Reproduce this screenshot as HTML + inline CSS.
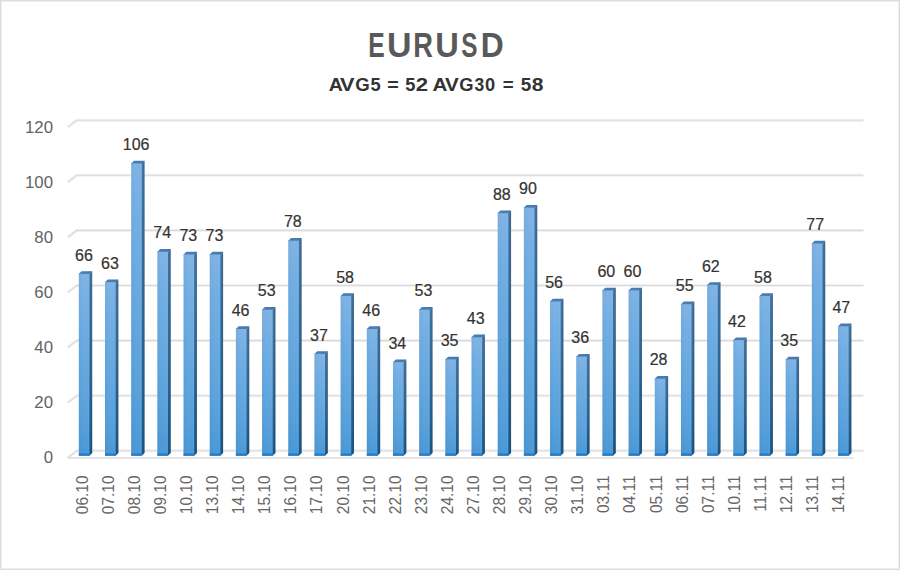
<!DOCTYPE html><html><head><meta charset="utf-8"><style>html,body{margin:0;padding:0;background:#fff}body{width:900px;height:570px;overflow:hidden}svg{display:block}text{font-family:"Liberation Sans",sans-serif}</style></head><body>
<svg width="900" height="570" viewBox="0 0 900 570">
<defs>
<linearGradient id="gf" x1="0" y1="0" x2="0" y2="1"><stop offset="0" stop-color="#80b4e6"/><stop offset="0.2" stop-color="#72afe4"/><stop offset="0.5" stop-color="#66a9e1"/><stop offset="0.8" stop-color="#58a1dc"/><stop offset="1" stop-color="#4a99d7"/></linearGradient>
<linearGradient id="gs" x1="0" y1="0" x2="0" y2="1"><stop offset="0" stop-color="#4a7cad"/><stop offset="0.5" stop-color="#35709f"/><stop offset="1" stop-color="#1d5e90"/></linearGradient>
<linearGradient id="gsh" x1="0" y1="0" x2="1" y2="0"><stop offset="0" stop-color="#000" stop-opacity="0"/><stop offset="1" stop-color="#000" stop-opacity="0.18"/></linearGradient>
<linearGradient id="gt" x1="0" y1="0" x2="1" y2="0"><stop offset="0" stop-color="#4d80b6"/><stop offset="0.75" stop-color="#4679ad"/><stop offset="1" stop-color="#2a5b8c"/></linearGradient>
<linearGradient id="gfh" x1="0" y1="0" x2="1" y2="0"><stop offset="0" stop-color="#000" stop-opacity="0.04"/><stop offset="0.5" stop-color="#000" stop-opacity="0"/><stop offset="1" stop-color="#fff" stop-opacity="0.04"/></linearGradient>
<linearGradient id="gb" x1="0" y1="0" x2="0" y2="1"><stop offset="0" stop-color="#1f78c8" stop-opacity="0"/><stop offset="0.45" stop-color="#1f78c8" stop-opacity="0.85"/><stop offset="1" stop-color="#1a74c4"/></linearGradient>
</defs>
<rect x="0" y="0" width="900" height="570" fill="#fff"/>
<rect x="0.5" y="0.5" width="899" height="569" fill="none" stroke="#dcdcdc" stroke-width="1"/>
<rect x="1.5" y="1.5" width="897" height="567" fill="none" stroke="#efefef" stroke-width="1"/>
<path d="M67.8 457.7L76.7 450.8L863.4 450.8 M67.8 402.6L76.7 395.7L863.4 395.7 M67.8 347.5L76.7 340.6L863.4 340.6 M67.8 292.4L76.7 285.5L863.4 285.5 M67.8 237.3L76.7 230.4L863.4 230.4 M67.8 182.2L76.7 175.3L863.4 175.3 M67.8 127.1L76.7 120.2L863.4 120.2" fill="none" stroke="#f1f1f1" stroke-width="3"/>
<path d="M67.8 457.7L76.7 450.8L863.4 450.8 M67.8 402.6L76.7 395.7L863.4 395.7 M67.8 347.5L76.7 340.6L863.4 340.6 M67.8 292.4L76.7 285.5L863.4 285.5 M67.8 237.3L76.7 230.4L863.4 230.4 M67.8 182.2L76.7 175.3L863.4 175.3 M67.8 127.1L76.7 120.2L863.4 120.2" fill="none" stroke="#dbdbdb" stroke-width="1.1"/>
<path d="M67.8 458L853.7 458" fill="none" stroke="#dcdcdc" stroke-width="1.6"/>
<text transform="translate(53 463.1) scale(1.05 1)" text-anchor="end" font-size="16" fill="#636363">0</text>
<text transform="translate(53 408) scale(1.05 1)" text-anchor="end" font-size="16" fill="#636363">20</text>
<text transform="translate(53 352.9) scale(1.05 1)" text-anchor="end" font-size="16" fill="#636363">40</text>
<text transform="translate(53 297.8) scale(1.05 1)" text-anchor="end" font-size="16" fill="#636363">60</text>
<text transform="translate(53 242.7) scale(1.05 1)" text-anchor="end" font-size="16" fill="#636363">80</text>
<text transform="translate(53 187.6) scale(1.05 1)" text-anchor="end" font-size="16" fill="#636363">100</text>
<text transform="translate(53 132.5) scale(1.05 1)" text-anchor="end" font-size="16" fill="#636363">120</text>
<path d="M88.4 273.84L89.4 273.84L92.2 271.14L92.2 453L89.4 455.7L88.4 455.7Z" fill="url(#gs)"/><path d="M88.4 273.84L89.4 273.84L92.2 271.14L92.2 453L89.4 455.7L88.4 455.7Z" fill="url(#gsh)"/>
<path d="M78.8 274.64L78.8 273.84L81.6 271.14L92.2 271.14L89.4 273.84L89.4 274.64Z" fill="url(#gt)"/>
<rect x="78.8" y="273.84" width="10.6" height="181.86" fill="url(#gf)"/>
<rect x="78.8" y="273.84" width="10.6" height="181.86" fill="url(#gfh)"/>
<rect x="78.8" y="452.7" width="10.6" height="3" fill="url(#gb)"/>
<path d="M114.58 282.12L115.58 282.12L118.38 279.42L118.38 453L115.58 455.7L114.58 455.7Z" fill="url(#gs)"/><path d="M114.58 282.12L115.58 282.12L118.38 279.42L118.38 453L115.58 455.7L114.58 455.7Z" fill="url(#gsh)"/>
<path d="M104.98 282.92L104.98 282.12L107.78 279.42L118.38 279.42L115.58 282.12L115.58 282.92Z" fill="url(#gt)"/>
<rect x="104.98" y="282.12" width="10.6" height="173.58" fill="url(#gf)"/>
<rect x="104.98" y="282.12" width="10.6" height="173.58" fill="url(#gfh)"/>
<rect x="104.98" y="452.7" width="10.6" height="3" fill="url(#gb)"/>
<path d="M140.76 163.44L141.76 163.44L144.56 160.74L144.56 453L141.76 455.7L140.76 455.7Z" fill="url(#gs)"/><path d="M140.76 163.44L141.76 163.44L144.56 160.74L144.56 453L141.76 455.7L140.76 455.7Z" fill="url(#gsh)"/>
<path d="M131.16 164.24L131.16 163.44L133.96 160.74L144.56 160.74L141.76 163.44L141.76 164.24Z" fill="url(#gt)"/>
<rect x="131.16" y="163.44" width="10.6" height="292.26" fill="url(#gf)"/>
<rect x="131.16" y="163.44" width="10.6" height="292.26" fill="url(#gfh)"/>
<rect x="131.16" y="452.7" width="10.6" height="3" fill="url(#gb)"/>
<path d="M166.94 251.76L167.94 251.76L170.74 249.06L170.74 453L167.94 455.7L166.94 455.7Z" fill="url(#gs)"/><path d="M166.94 251.76L167.94 251.76L170.74 249.06L170.74 453L167.94 455.7L166.94 455.7Z" fill="url(#gsh)"/>
<path d="M157.34 252.56L157.34 251.76L160.14 249.06L170.74 249.06L167.94 251.76L167.94 252.56Z" fill="url(#gt)"/>
<rect x="157.34" y="251.76" width="10.6" height="203.94" fill="url(#gf)"/>
<rect x="157.34" y="251.76" width="10.6" height="203.94" fill="url(#gfh)"/>
<rect x="157.34" y="452.7" width="10.6" height="3" fill="url(#gb)"/>
<path d="M193.12 254.52L194.12 254.52L196.92 251.82L196.92 453L194.12 455.7L193.12 455.7Z" fill="url(#gs)"/><path d="M193.12 254.52L194.12 254.52L196.92 251.82L196.92 453L194.12 455.7L193.12 455.7Z" fill="url(#gsh)"/>
<path d="M183.52 255.32L183.52 254.52L186.32 251.82L196.92 251.82L194.12 254.52L194.12 255.32Z" fill="url(#gt)"/>
<rect x="183.52" y="254.52" width="10.6" height="201.18" fill="url(#gf)"/>
<rect x="183.52" y="254.52" width="10.6" height="201.18" fill="url(#gfh)"/>
<rect x="183.52" y="452.7" width="10.6" height="3" fill="url(#gb)"/>
<path d="M219.3 254.52L220.3 254.52L223.1 251.82L223.1 453L220.3 455.7L219.3 455.7Z" fill="url(#gs)"/><path d="M219.3 254.52L220.3 254.52L223.1 251.82L223.1 453L220.3 455.7L219.3 455.7Z" fill="url(#gsh)"/>
<path d="M209.7 255.32L209.7 254.52L212.5 251.82L223.1 251.82L220.3 254.52L220.3 255.32Z" fill="url(#gt)"/>
<rect x="209.7" y="254.52" width="10.6" height="201.18" fill="url(#gf)"/>
<rect x="209.7" y="254.52" width="10.6" height="201.18" fill="url(#gfh)"/>
<rect x="209.7" y="452.7" width="10.6" height="3" fill="url(#gb)"/>
<path d="M245.48 329.04L246.48 329.04L249.28 326.34L249.28 453L246.48 455.7L245.48 455.7Z" fill="url(#gs)"/><path d="M245.48 329.04L246.48 329.04L249.28 326.34L249.28 453L246.48 455.7L245.48 455.7Z" fill="url(#gsh)"/>
<path d="M235.88 329.84L235.88 329.04L238.68 326.34L249.28 326.34L246.48 329.04L246.48 329.84Z" fill="url(#gt)"/>
<rect x="235.88" y="329.04" width="10.6" height="126.66" fill="url(#gf)"/>
<rect x="235.88" y="329.04" width="10.6" height="126.66" fill="url(#gfh)"/>
<rect x="235.88" y="452.7" width="10.6" height="3" fill="url(#gb)"/>
<path d="M271.66 309.72L272.66 309.72L275.46 307.02L275.46 453L272.66 455.7L271.66 455.7Z" fill="url(#gs)"/><path d="M271.66 309.72L272.66 309.72L275.46 307.02L275.46 453L272.66 455.7L271.66 455.7Z" fill="url(#gsh)"/>
<path d="M262.06 310.52L262.06 309.72L264.86 307.02L275.46 307.02L272.66 309.72L272.66 310.52Z" fill="url(#gt)"/>
<rect x="262.06" y="309.72" width="10.6" height="145.98" fill="url(#gf)"/>
<rect x="262.06" y="309.72" width="10.6" height="145.98" fill="url(#gfh)"/>
<rect x="262.06" y="452.7" width="10.6" height="3" fill="url(#gb)"/>
<path d="M297.84 240.72L298.84 240.72L301.64 238.02L301.64 453L298.84 455.7L297.84 455.7Z" fill="url(#gs)"/><path d="M297.84 240.72L298.84 240.72L301.64 238.02L301.64 453L298.84 455.7L297.84 455.7Z" fill="url(#gsh)"/>
<path d="M288.24 241.52L288.24 240.72L291.04 238.02L301.64 238.02L298.84 240.72L298.84 241.52Z" fill="url(#gt)"/>
<rect x="288.24" y="240.72" width="10.6" height="214.98" fill="url(#gf)"/>
<rect x="288.24" y="240.72" width="10.6" height="214.98" fill="url(#gfh)"/>
<rect x="288.24" y="452.7" width="10.6" height="3" fill="url(#gb)"/>
<path d="M324.02 353.88L325.02 353.88L327.82 351.18L327.82 453L325.02 455.7L324.02 455.7Z" fill="url(#gs)"/><path d="M324.02 353.88L325.02 353.88L327.82 351.18L327.82 453L325.02 455.7L324.02 455.7Z" fill="url(#gsh)"/>
<path d="M314.42 354.68L314.42 353.88L317.22 351.18L327.82 351.18L325.02 353.88L325.02 354.68Z" fill="url(#gt)"/>
<rect x="314.42" y="353.88" width="10.6" height="101.82" fill="url(#gf)"/>
<rect x="314.42" y="353.88" width="10.6" height="101.82" fill="url(#gfh)"/>
<rect x="314.42" y="452.7" width="10.6" height="3" fill="url(#gb)"/>
<path d="M350.2 295.92L351.2 295.92L354 293.22L354 453L351.2 455.7L350.2 455.7Z" fill="url(#gs)"/><path d="M350.2 295.92L351.2 295.92L354 293.22L354 453L351.2 455.7L350.2 455.7Z" fill="url(#gsh)"/>
<path d="M340.6 296.72L340.6 295.92L343.4 293.22L354 293.22L351.2 295.92L351.2 296.72Z" fill="url(#gt)"/>
<rect x="340.6" y="295.92" width="10.6" height="159.78" fill="url(#gf)"/>
<rect x="340.6" y="295.92" width="10.6" height="159.78" fill="url(#gfh)"/>
<rect x="340.6" y="452.7" width="10.6" height="3" fill="url(#gb)"/>
<path d="M376.38 329.04L377.38 329.04L380.18 326.34L380.18 453L377.38 455.7L376.38 455.7Z" fill="url(#gs)"/><path d="M376.38 329.04L377.38 329.04L380.18 326.34L380.18 453L377.38 455.7L376.38 455.7Z" fill="url(#gsh)"/>
<path d="M366.78 329.84L366.78 329.04L369.58 326.34L380.18 326.34L377.38 329.04L377.38 329.84Z" fill="url(#gt)"/>
<rect x="366.78" y="329.04" width="10.6" height="126.66" fill="url(#gf)"/>
<rect x="366.78" y="329.04" width="10.6" height="126.66" fill="url(#gfh)"/>
<rect x="366.78" y="452.7" width="10.6" height="3" fill="url(#gb)"/>
<path d="M402.56 362.16L403.56 362.16L406.36 359.46L406.36 453L403.56 455.7L402.56 455.7Z" fill="url(#gs)"/><path d="M402.56 362.16L403.56 362.16L406.36 359.46L406.36 453L403.56 455.7L402.56 455.7Z" fill="url(#gsh)"/>
<path d="M392.96 362.96L392.96 362.16L395.76 359.46L406.36 359.46L403.56 362.16L403.56 362.96Z" fill="url(#gt)"/>
<rect x="392.96" y="362.16" width="10.6" height="93.54" fill="url(#gf)"/>
<rect x="392.96" y="362.16" width="10.6" height="93.54" fill="url(#gfh)"/>
<rect x="392.96" y="452.7" width="10.6" height="3" fill="url(#gb)"/>
<path d="M428.74 309.72L429.74 309.72L432.54 307.02L432.54 453L429.74 455.7L428.74 455.7Z" fill="url(#gs)"/><path d="M428.74 309.72L429.74 309.72L432.54 307.02L432.54 453L429.74 455.7L428.74 455.7Z" fill="url(#gsh)"/>
<path d="M419.14 310.52L419.14 309.72L421.94 307.02L432.54 307.02L429.74 309.72L429.74 310.52Z" fill="url(#gt)"/>
<rect x="419.14" y="309.72" width="10.6" height="145.98" fill="url(#gf)"/>
<rect x="419.14" y="309.72" width="10.6" height="145.98" fill="url(#gfh)"/>
<rect x="419.14" y="452.7" width="10.6" height="3" fill="url(#gb)"/>
<path d="M454.92 359.4L455.92 359.4L458.72 356.7L458.72 453L455.92 455.7L454.92 455.7Z" fill="url(#gs)"/><path d="M454.92 359.4L455.92 359.4L458.72 356.7L458.72 453L455.92 455.7L454.92 455.7Z" fill="url(#gsh)"/>
<path d="M445.32 360.2L445.32 359.4L448.12 356.7L458.72 356.7L455.92 359.4L455.92 360.2Z" fill="url(#gt)"/>
<rect x="445.32" y="359.4" width="10.6" height="96.3" fill="url(#gf)"/>
<rect x="445.32" y="359.4" width="10.6" height="96.3" fill="url(#gfh)"/>
<rect x="445.32" y="452.7" width="10.6" height="3" fill="url(#gb)"/>
<path d="M481.1 337.32L482.1 337.32L484.9 334.62L484.9 453L482.1 455.7L481.1 455.7Z" fill="url(#gs)"/><path d="M481.1 337.32L482.1 337.32L484.9 334.62L484.9 453L482.1 455.7L481.1 455.7Z" fill="url(#gsh)"/>
<path d="M471.5 338.12L471.5 337.32L474.3 334.62L484.9 334.62L482.1 337.32L482.1 338.12Z" fill="url(#gt)"/>
<rect x="471.5" y="337.32" width="10.6" height="118.38" fill="url(#gf)"/>
<rect x="471.5" y="337.32" width="10.6" height="118.38" fill="url(#gfh)"/>
<rect x="471.5" y="452.7" width="10.6" height="3" fill="url(#gb)"/>
<path d="M507.28 213.12L508.28 213.12L511.08 210.42L511.08 453L508.28 455.7L507.28 455.7Z" fill="url(#gs)"/><path d="M507.28 213.12L508.28 213.12L511.08 210.42L511.08 453L508.28 455.7L507.28 455.7Z" fill="url(#gsh)"/>
<path d="M497.68 213.92L497.68 213.12L500.48 210.42L511.08 210.42L508.28 213.12L508.28 213.92Z" fill="url(#gt)"/>
<rect x="497.68" y="213.12" width="10.6" height="242.58" fill="url(#gf)"/>
<rect x="497.68" y="213.12" width="10.6" height="242.58" fill="url(#gfh)"/>
<rect x="497.68" y="452.7" width="10.6" height="3" fill="url(#gb)"/>
<path d="M533.46 207.6L534.46 207.6L537.26 204.9L537.26 453L534.46 455.7L533.46 455.7Z" fill="url(#gs)"/><path d="M533.46 207.6L534.46 207.6L537.26 204.9L537.26 453L534.46 455.7L533.46 455.7Z" fill="url(#gsh)"/>
<path d="M523.86 208.4L523.86 207.6L526.66 204.9L537.26 204.9L534.46 207.6L534.46 208.4Z" fill="url(#gt)"/>
<rect x="523.86" y="207.6" width="10.6" height="248.1" fill="url(#gf)"/>
<rect x="523.86" y="207.6" width="10.6" height="248.1" fill="url(#gfh)"/>
<rect x="523.86" y="452.7" width="10.6" height="3" fill="url(#gb)"/>
<path d="M559.64 301.44L560.64 301.44L563.44 298.74L563.44 453L560.64 455.7L559.64 455.7Z" fill="url(#gs)"/><path d="M559.64 301.44L560.64 301.44L563.44 298.74L563.44 453L560.64 455.7L559.64 455.7Z" fill="url(#gsh)"/>
<path d="M550.04 302.24L550.04 301.44L552.84 298.74L563.44 298.74L560.64 301.44L560.64 302.24Z" fill="url(#gt)"/>
<rect x="550.04" y="301.44" width="10.6" height="154.26" fill="url(#gf)"/>
<rect x="550.04" y="301.44" width="10.6" height="154.26" fill="url(#gfh)"/>
<rect x="550.04" y="452.7" width="10.6" height="3" fill="url(#gb)"/>
<path d="M585.82 356.64L586.82 356.64L589.62 353.94L589.62 453L586.82 455.7L585.82 455.7Z" fill="url(#gs)"/><path d="M585.82 356.64L586.82 356.64L589.62 353.94L589.62 453L586.82 455.7L585.82 455.7Z" fill="url(#gsh)"/>
<path d="M576.22 357.44L576.22 356.64L579.02 353.94L589.62 353.94L586.82 356.64L586.82 357.44Z" fill="url(#gt)"/>
<rect x="576.22" y="356.64" width="10.6" height="99.06" fill="url(#gf)"/>
<rect x="576.22" y="356.64" width="10.6" height="99.06" fill="url(#gfh)"/>
<rect x="576.22" y="452.7" width="10.6" height="3" fill="url(#gb)"/>
<path d="M612 290.4L613 290.4L615.8 287.7L615.8 453L613 455.7L612 455.7Z" fill="url(#gs)"/><path d="M612 290.4L613 290.4L615.8 287.7L615.8 453L613 455.7L612 455.7Z" fill="url(#gsh)"/>
<path d="M602.4 291.2L602.4 290.4L605.2 287.7L615.8 287.7L613 290.4L613 291.2Z" fill="url(#gt)"/>
<rect x="602.4" y="290.4" width="10.6" height="165.3" fill="url(#gf)"/>
<rect x="602.4" y="290.4" width="10.6" height="165.3" fill="url(#gfh)"/>
<rect x="602.4" y="452.7" width="10.6" height="3" fill="url(#gb)"/>
<path d="M638.18 290.4L639.18 290.4L641.98 287.7L641.98 453L639.18 455.7L638.18 455.7Z" fill="url(#gs)"/><path d="M638.18 290.4L639.18 290.4L641.98 287.7L641.98 453L639.18 455.7L638.18 455.7Z" fill="url(#gsh)"/>
<path d="M628.58 291.2L628.58 290.4L631.38 287.7L641.98 287.7L639.18 290.4L639.18 291.2Z" fill="url(#gt)"/>
<rect x="628.58" y="290.4" width="10.6" height="165.3" fill="url(#gf)"/>
<rect x="628.58" y="290.4" width="10.6" height="165.3" fill="url(#gfh)"/>
<rect x="628.58" y="452.7" width="10.6" height="3" fill="url(#gb)"/>
<path d="M664.36 378.72L665.36 378.72L668.16 376.02L668.16 453L665.36 455.7L664.36 455.7Z" fill="url(#gs)"/><path d="M664.36 378.72L665.36 378.72L668.16 376.02L668.16 453L665.36 455.7L664.36 455.7Z" fill="url(#gsh)"/>
<path d="M654.76 379.52L654.76 378.72L657.56 376.02L668.16 376.02L665.36 378.72L665.36 379.52Z" fill="url(#gt)"/>
<rect x="654.76" y="378.72" width="10.6" height="76.98" fill="url(#gf)"/>
<rect x="654.76" y="378.72" width="10.6" height="76.98" fill="url(#gfh)"/>
<rect x="654.76" y="452.7" width="10.6" height="3" fill="url(#gb)"/>
<path d="M690.54 304.2L691.54 304.2L694.34 301.5L694.34 453L691.54 455.7L690.54 455.7Z" fill="url(#gs)"/><path d="M690.54 304.2L691.54 304.2L694.34 301.5L694.34 453L691.54 455.7L690.54 455.7Z" fill="url(#gsh)"/>
<path d="M680.94 305L680.94 304.2L683.74 301.5L694.34 301.5L691.54 304.2L691.54 305Z" fill="url(#gt)"/>
<rect x="680.94" y="304.2" width="10.6" height="151.5" fill="url(#gf)"/>
<rect x="680.94" y="304.2" width="10.6" height="151.5" fill="url(#gfh)"/>
<rect x="680.94" y="452.7" width="10.6" height="3" fill="url(#gb)"/>
<path d="M716.72 284.88L717.72 284.88L720.52 282.18L720.52 453L717.72 455.7L716.72 455.7Z" fill="url(#gs)"/><path d="M716.72 284.88L717.72 284.88L720.52 282.18L720.52 453L717.72 455.7L716.72 455.7Z" fill="url(#gsh)"/>
<path d="M707.12 285.68L707.12 284.88L709.92 282.18L720.52 282.18L717.72 284.88L717.72 285.68Z" fill="url(#gt)"/>
<rect x="707.12" y="284.88" width="10.6" height="170.82" fill="url(#gf)"/>
<rect x="707.12" y="284.88" width="10.6" height="170.82" fill="url(#gfh)"/>
<rect x="707.12" y="452.7" width="10.6" height="3" fill="url(#gb)"/>
<path d="M742.9 340.08L743.9 340.08L746.7 337.38L746.7 453L743.9 455.7L742.9 455.7Z" fill="url(#gs)"/><path d="M742.9 340.08L743.9 340.08L746.7 337.38L746.7 453L743.9 455.7L742.9 455.7Z" fill="url(#gsh)"/>
<path d="M733.3 340.88L733.3 340.08L736.1 337.38L746.7 337.38L743.9 340.08L743.9 340.88Z" fill="url(#gt)"/>
<rect x="733.3" y="340.08" width="10.6" height="115.62" fill="url(#gf)"/>
<rect x="733.3" y="340.08" width="10.6" height="115.62" fill="url(#gfh)"/>
<rect x="733.3" y="452.7" width="10.6" height="3" fill="url(#gb)"/>
<path d="M769.08 295.92L770.08 295.92L772.88 293.22L772.88 453L770.08 455.7L769.08 455.7Z" fill="url(#gs)"/><path d="M769.08 295.92L770.08 295.92L772.88 293.22L772.88 453L770.08 455.7L769.08 455.7Z" fill="url(#gsh)"/>
<path d="M759.48 296.72L759.48 295.92L762.28 293.22L772.88 293.22L770.08 295.92L770.08 296.72Z" fill="url(#gt)"/>
<rect x="759.48" y="295.92" width="10.6" height="159.78" fill="url(#gf)"/>
<rect x="759.48" y="295.92" width="10.6" height="159.78" fill="url(#gfh)"/>
<rect x="759.48" y="452.7" width="10.6" height="3" fill="url(#gb)"/>
<path d="M795.26 359.4L796.26 359.4L799.06 356.7L799.06 453L796.26 455.7L795.26 455.7Z" fill="url(#gs)"/><path d="M795.26 359.4L796.26 359.4L799.06 356.7L799.06 453L796.26 455.7L795.26 455.7Z" fill="url(#gsh)"/>
<path d="M785.66 360.2L785.66 359.4L788.46 356.7L799.06 356.7L796.26 359.4L796.26 360.2Z" fill="url(#gt)"/>
<rect x="785.66" y="359.4" width="10.6" height="96.3" fill="url(#gf)"/>
<rect x="785.66" y="359.4" width="10.6" height="96.3" fill="url(#gfh)"/>
<rect x="785.66" y="452.7" width="10.6" height="3" fill="url(#gb)"/>
<path d="M821.44 243.48L822.44 243.48L825.24 240.78L825.24 453L822.44 455.7L821.44 455.7Z" fill="url(#gs)"/><path d="M821.44 243.48L822.44 243.48L825.24 240.78L825.24 453L822.44 455.7L821.44 455.7Z" fill="url(#gsh)"/>
<path d="M811.84 244.28L811.84 243.48L814.64 240.78L825.24 240.78L822.44 243.48L822.44 244.28Z" fill="url(#gt)"/>
<rect x="811.84" y="243.48" width="10.6" height="212.22" fill="url(#gf)"/>
<rect x="811.84" y="243.48" width="10.6" height="212.22" fill="url(#gfh)"/>
<rect x="811.84" y="452.7" width="10.6" height="3" fill="url(#gb)"/>
<path d="M847.62 326.28L848.62 326.28L851.42 323.58L851.42 453L848.62 455.7L847.62 455.7Z" fill="url(#gs)"/><path d="M847.62 326.28L848.62 326.28L851.42 323.58L851.42 453L848.62 455.7L847.62 455.7Z" fill="url(#gsh)"/>
<path d="M838.02 327.08L838.02 326.28L840.82 323.58L851.42 323.58L848.62 326.28L848.62 327.08Z" fill="url(#gt)"/>
<rect x="838.02" y="326.28" width="10.6" height="129.42" fill="url(#gf)"/>
<rect x="838.02" y="326.28" width="10.6" height="129.42" fill="url(#gfh)"/>
<rect x="838.02" y="452.7" width="10.6" height="3" fill="url(#gb)"/>
<text x="83.9" y="260.54" text-anchor="middle" font-size="16" fill="#333" stroke="#333" stroke-width="0.2">66</text>
<text x="110.02" y="268.82" text-anchor="middle" font-size="16" fill="#333" stroke="#333" stroke-width="0.2">63</text>
<text x="136.14" y="150.14" text-anchor="middle" font-size="16" fill="#333" stroke="#333" stroke-width="0.2">106</text>
<text x="162.26" y="238.46" text-anchor="middle" font-size="16" fill="#333" stroke="#333" stroke-width="0.2">74</text>
<text x="188.38" y="241.22" text-anchor="middle" font-size="16" fill="#333" stroke="#333" stroke-width="0.2">73</text>
<text x="214.5" y="241.22" text-anchor="middle" font-size="16" fill="#333" stroke="#333" stroke-width="0.2">73</text>
<text x="240.62" y="315.74" text-anchor="middle" font-size="16" fill="#333" stroke="#333" stroke-width="0.2">46</text>
<text x="266.74" y="296.42" text-anchor="middle" font-size="16" fill="#333" stroke="#333" stroke-width="0.2">53</text>
<text x="292.86" y="227.42" text-anchor="middle" font-size="16" fill="#333" stroke="#333" stroke-width="0.2">78</text>
<text x="318.98" y="340.58" text-anchor="middle" font-size="16" fill="#333" stroke="#333" stroke-width="0.2">37</text>
<text x="345.1" y="282.62" text-anchor="middle" font-size="16" fill="#333" stroke="#333" stroke-width="0.2">58</text>
<text x="371.22" y="315.74" text-anchor="middle" font-size="16" fill="#333" stroke="#333" stroke-width="0.2">46</text>
<text x="397.34" y="348.86" text-anchor="middle" font-size="16" fill="#333" stroke="#333" stroke-width="0.2">34</text>
<text x="423.46" y="296.42" text-anchor="middle" font-size="16" fill="#333" stroke="#333" stroke-width="0.2">53</text>
<text x="449.58" y="346.1" text-anchor="middle" font-size="16" fill="#333" stroke="#333" stroke-width="0.2">35</text>
<text x="475.7" y="324.02" text-anchor="middle" font-size="16" fill="#333" stroke="#333" stroke-width="0.2">43</text>
<text x="501.82" y="199.82" text-anchor="middle" font-size="16" fill="#333" stroke="#333" stroke-width="0.2">88</text>
<text x="527.94" y="194.3" text-anchor="middle" font-size="16" fill="#333" stroke="#333" stroke-width="0.2">90</text>
<text x="554.06" y="288.14" text-anchor="middle" font-size="16" fill="#333" stroke="#333" stroke-width="0.2">56</text>
<text x="580.18" y="343.34" text-anchor="middle" font-size="16" fill="#333" stroke="#333" stroke-width="0.2">36</text>
<text x="606.3" y="277.1" text-anchor="middle" font-size="16" fill="#333" stroke="#333" stroke-width="0.2">60</text>
<text x="632.42" y="277.1" text-anchor="middle" font-size="16" fill="#333" stroke="#333" stroke-width="0.2">60</text>
<text x="658.54" y="365.42" text-anchor="middle" font-size="16" fill="#333" stroke="#333" stroke-width="0.2">28</text>
<text x="684.66" y="290.9" text-anchor="middle" font-size="16" fill="#333" stroke="#333" stroke-width="0.2">55</text>
<text x="710.78" y="271.58" text-anchor="middle" font-size="16" fill="#333" stroke="#333" stroke-width="0.2">62</text>
<text x="736.9" y="326.78" text-anchor="middle" font-size="16" fill="#333" stroke="#333" stroke-width="0.2">42</text>
<text x="763.02" y="282.62" text-anchor="middle" font-size="16" fill="#333" stroke="#333" stroke-width="0.2">58</text>
<text x="789.14" y="346.1" text-anchor="middle" font-size="16" fill="#333" stroke="#333" stroke-width="0.2">35</text>
<text x="815.26" y="230.18" text-anchor="middle" font-size="16" fill="#333" stroke="#333" stroke-width="0.2">77</text>
<text x="841.38" y="312.98" text-anchor="middle" font-size="16" fill="#333" stroke="#333" stroke-width="0.2">47</text>
<text transform="translate(81.95 475.5) rotate(-90) scale(0.965 1)" text-anchor="end" font-size="16" fill="#666" dy="5.7">06.10</text>
<text transform="translate(108.03 475.5) rotate(-90) scale(0.965 1)" text-anchor="end" font-size="16" fill="#666" dy="5.7">07.10</text>
<text transform="translate(134.12 475.5) rotate(-90) scale(0.965 1)" text-anchor="end" font-size="16" fill="#666" dy="5.7">08.10</text>
<text transform="translate(160.2 475.5) rotate(-90) scale(0.965 1)" text-anchor="end" font-size="16" fill="#666" dy="5.7">09.10</text>
<text transform="translate(186.29 475.5) rotate(-90) scale(0.965 1)" text-anchor="end" font-size="16" fill="#666" dy="5.7">10.10</text>
<text transform="translate(212.38 475.5) rotate(-90) scale(0.965 1)" text-anchor="end" font-size="16" fill="#666" dy="5.7">13.10</text>
<text transform="translate(238.46 475.5) rotate(-90) scale(0.965 1)" text-anchor="end" font-size="16" fill="#666" dy="5.7">14.10</text>
<text transform="translate(264.55 475.5) rotate(-90) scale(0.965 1)" text-anchor="end" font-size="16" fill="#666" dy="5.7">15.10</text>
<text transform="translate(290.63 475.5) rotate(-90) scale(0.965 1)" text-anchor="end" font-size="16" fill="#666" dy="5.7">16.10</text>
<text transform="translate(316.72 475.5) rotate(-90) scale(0.965 1)" text-anchor="end" font-size="16" fill="#666" dy="5.7">17.10</text>
<text transform="translate(342.8 475.5) rotate(-90) scale(0.965 1)" text-anchor="end" font-size="16" fill="#666" dy="5.7">20.10</text>
<text transform="translate(368.88 475.5) rotate(-90) scale(0.965 1)" text-anchor="end" font-size="16" fill="#666" dy="5.7">21.10</text>
<text transform="translate(394.97 475.5) rotate(-90) scale(0.965 1)" text-anchor="end" font-size="16" fill="#666" dy="5.7">22.10</text>
<text transform="translate(421.06 475.5) rotate(-90) scale(0.965 1)" text-anchor="end" font-size="16" fill="#666" dy="5.7">23.10</text>
<text transform="translate(447.14 475.5) rotate(-90) scale(0.965 1)" text-anchor="end" font-size="16" fill="#666" dy="5.7">24.10</text>
<text transform="translate(473.23 475.5) rotate(-90) scale(0.965 1)" text-anchor="end" font-size="16" fill="#666" dy="5.7">27.10</text>
<text transform="translate(499.31 475.5) rotate(-90) scale(0.965 1)" text-anchor="end" font-size="16" fill="#666" dy="5.7">28.10</text>
<text transform="translate(525.39 475.5) rotate(-90) scale(0.965 1)" text-anchor="end" font-size="16" fill="#666" dy="5.7">29.10</text>
<text transform="translate(551.48 475.5) rotate(-90) scale(0.965 1)" text-anchor="end" font-size="16" fill="#666" dy="5.7">30.10</text>
<text transform="translate(577.57 475.5) rotate(-90) scale(0.965 1)" text-anchor="end" font-size="16" fill="#666" dy="5.7">31.10</text>
<text transform="translate(603.65 475.5) rotate(-90) scale(0.965 1)" text-anchor="end" font-size="16" fill="#666" dy="5.7">03.11</text>
<text transform="translate(629.74 475.5) rotate(-90) scale(0.965 1)" text-anchor="end" font-size="16" fill="#666" dy="5.7">04.11</text>
<text transform="translate(655.82 475.5) rotate(-90) scale(0.965 1)" text-anchor="end" font-size="16" fill="#666" dy="5.7">05.11</text>
<text transform="translate(681.91 475.5) rotate(-90) scale(0.965 1)" text-anchor="end" font-size="16" fill="#666" dy="5.7">06.11</text>
<text transform="translate(707.99 475.5) rotate(-90) scale(0.965 1)" text-anchor="end" font-size="16" fill="#666" dy="5.7">07.11</text>
<text transform="translate(734.08 475.5) rotate(-90) scale(0.965 1)" text-anchor="end" font-size="16" fill="#666" dy="5.7">10.11</text>
<text transform="translate(760.16 475.5) rotate(-90) scale(0.965 1)" text-anchor="end" font-size="16" fill="#666" dy="5.7">11.11</text>
<text transform="translate(786.25 475.5) rotate(-90) scale(0.965 1)" text-anchor="end" font-size="16" fill="#666" dy="5.7">12.11</text>
<text transform="translate(812.33 475.5) rotate(-90) scale(0.965 1)" text-anchor="end" font-size="16" fill="#666" dy="5.7">13.11</text>
<text transform="translate(838.42 475.5) rotate(-90) scale(0.965 1)" text-anchor="end" font-size="16" fill="#666" dy="5.7">14.11</text>
<text transform="translate(368.35 57.40) scale(0.713 1)" font-size="34.5" font-weight="bold" fill="#595959">E</text><text transform="translate(386.96 57.40) scale(0.984 1)" font-size="34.5" font-weight="bold" fill="#595959">U</text><text transform="translate(413.28 57.40) scale(0.790 1)" font-size="34.5" font-weight="bold" fill="#595959">R</text><text transform="translate(435.24 57.40) scale(0.945 1)" font-size="34.5" font-weight="bold" fill="#595959">U</text><text transform="translate(461.20 57.40) scale(0.706 1)" font-size="34.5" font-weight="bold" fill="#595959">S</text><text transform="translate(480.77 57.40) scale(0.922 1)" font-size="34.5" font-weight="bold" fill="#595959">D</text>
<text transform="translate(328.71 91.10) scale(1.033 1)" font-size="18.9" font-weight="bold" fill="#333333">A</text><text transform="translate(339.95 91.10) scale(1.150 1)" font-size="18.9" font-weight="bold" fill="#333333">V</text><text transform="translate(355.33 91.10) scale(0.988 1)" font-size="18.9" font-weight="bold" fill="#333333">G</text><text transform="translate(370.44 91.10) scale(0.968 1)" font-size="18.9" font-weight="bold" fill="#333333">5</text><text transform="translate(387.18 91.10) scale(1.045 1)" font-size="18.9" font-weight="bold" fill="#333333">=</text><text transform="translate(405.34 91.10) scale(0.968 1)" font-size="18.9" font-weight="bold" fill="#333333">5</text><text transform="translate(415.63 91.10) scale(1.176 1)" font-size="18.9" font-weight="bold" fill="#333333">2</text><text transform="translate(432.59 91.10) scale(1.088 1)" font-size="18.9" font-weight="bold" fill="#333333">A</text><text transform="translate(445.06 91.10) scale(1.093 1)" font-size="18.9" font-weight="bold" fill="#333333">V</text><text transform="translate(459.25 91.10) scale(0.972 1)" font-size="18.9" font-weight="bold" fill="#333333">G</text><text transform="translate(474.50 91.10) scale(0.926 1)" font-size="18.9" font-weight="bold" fill="#333333">3</text><text transform="translate(485.08 91.10) scale(0.968 1)" font-size="18.9" font-weight="bold" fill="#333333">0</text><text transform="translate(502.82 91.10) scale(0.992 1)" font-size="18.9" font-weight="bold" fill="#333333">=</text><text transform="translate(520.72 91.10) scale(1.000 1)" font-size="18.9" font-weight="bold" fill="#333333">5</text><text transform="translate(531.63 91.10) scale(1.115 1)" font-size="18.9" font-weight="bold" fill="#333333">8</text>
</svg></body></html>
